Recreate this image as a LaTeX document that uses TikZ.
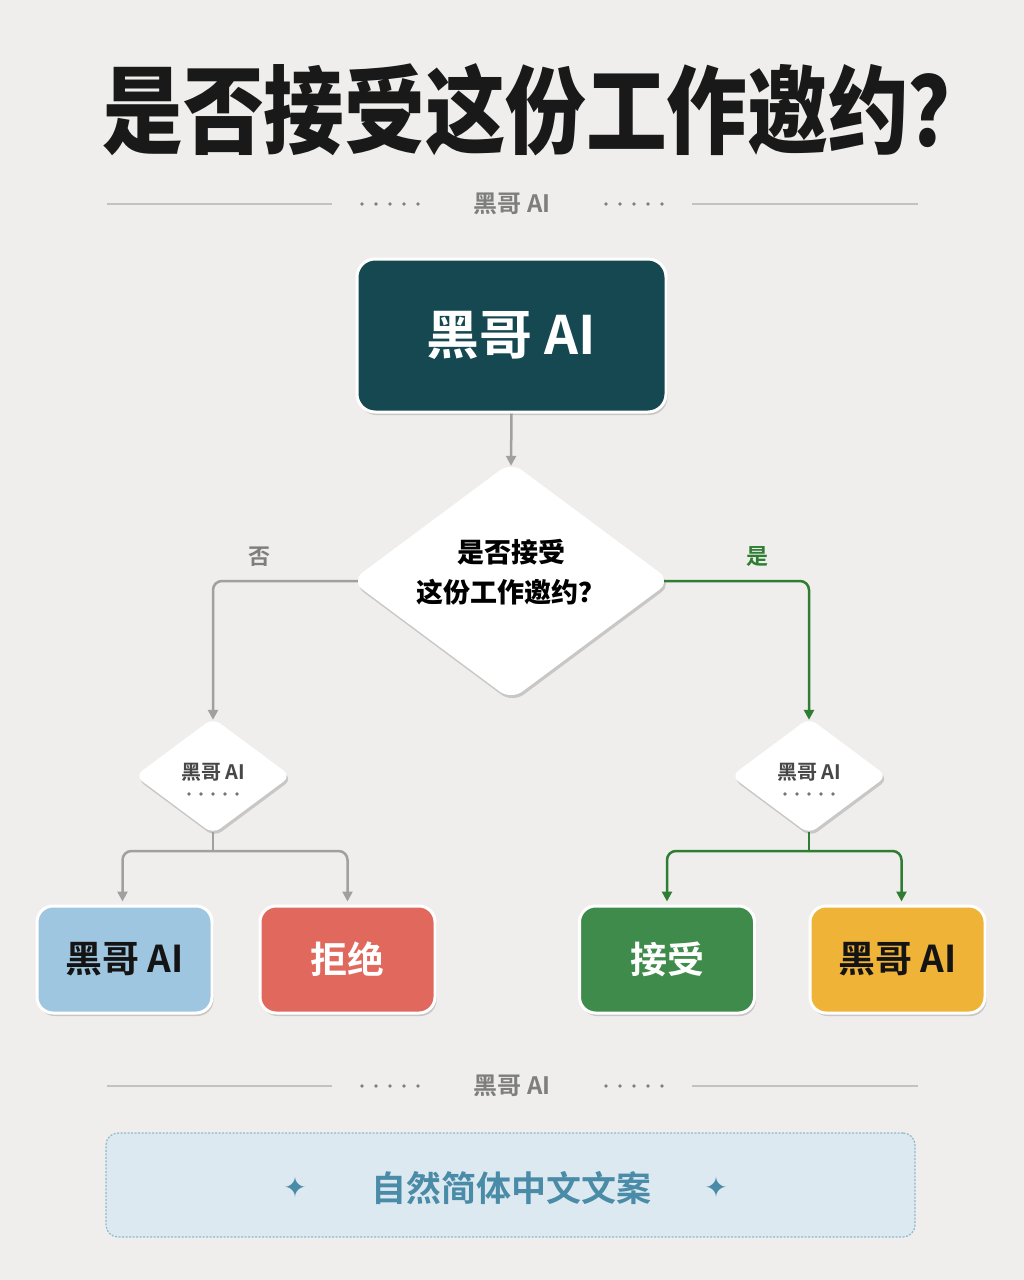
\documentclass[tikz,border=0pt]{standalone}
\usepackage{fontspec}
\newfontfamily\cjk{Noto Sans CJK SC}
\newfontfamily\cjkb{Noto Sans CJK SC Bold}
\newfontfamily\cjkh{Noto Sans CJK SC Black}
\newfontfamily\symf{DejaVu Sans}
\usetikzlibrary{shapes.geometric,shadows,arrows.meta}
\definecolor{bg}{HTML}{EFEEEC}
\definecolor{teal}{HTML}{154850}
\definecolor{boxblue}{HTML}{9EC6E0}
\definecolor{boxred}{HTML}{E0685D}
\definecolor{boxgreen}{HTML}{3F8B4B}
\definecolor{boxyellow}{HTML}{EFB338}
\definecolor{lgreen}{HTML}{2E7D32}
\definecolor{lgray}{HTML}{A0A0A0}
\definecolor{sepline}{HTML}{C2C2C2}
\definecolor{septext}{HTML}{7E7E7E}
\definecolor{noteblue}{HTML}{4A8BA8}
\definecolor{notefill}{HTML}{DDE9F0}
\definecolor{noteline}{HTML}{8FB8CC}
\tikzset{
  shd/.style={drop shadow={shadow xshift=1.5pt,shadow yshift=-3pt,opacity=0.16,fill=black}},
  bigbox/.style={rectangle, rounded corners=18pt, draw=white, line width=3pt, shd},
  leaf/.style={bigbox, minimum width=175pt, minimum height=107pt, rounded corners=16pt,
     font=\cjkb\fontsize{37pt}{40pt}\selectfont},
  dmd/.style={diamond, fill=white, inner sep=0pt, shd},
  conn/.style={line width=2.5pt, rounded corners=9pt},
  tip/.style={-{Triangle[length=10pt,width=10pt]}},
  septxt/.style={text=septext, font=\cjkb\fontsize{24pt}{26pt}\selectfont},
}
\begin{document}
\begin{tikzpicture}[x=1pt,y=-1pt]
\fill[bg] (0,0) rectangle (1024,1280);
\useasboundingbox (0,0) rectangle (1024,1280);

% title
\node[text=black!90, xscale=0.84, font=\cjkh\fontsize{96pt}{100pt}\selectfont] (title) at (546,110) {是否接受这份工作邀约？};

% separator 1
\draw[sepline, line width=1.3pt] (107,204) -- (332,204);
\draw[sepline, line width=1.3pt] (692,204) -- (918,204);
\foreach \i in {0,...,4} {
  \fill[septext] (362+14*\i,204) circle[radius=1.9pt];
  \fill[septext] (606+14*\i,204) circle[radius=1.9pt];
}
\node[septxt] (sep1) at (512,204) {黑哥 AI};

% top box
\node[bigbox, fill=teal, minimum width=309pt, minimum height=153pt, text=white,
      font=\cjkb\fontsize{53pt}{56pt}\selectfont] (top) at (511.5,335.5) {黑哥 AI};

% main diamond
\node[dmd, minimum width=320pt, minimum height=238pt, rounded corners=14pt] (d0) at (511,581) {};
\node[align=center, font=\cjkh\fontsize{27pt}{40pt}\selectfont] (q) at (511,572) {是否接受\\这份工作邀约？};

% small diamonds
\node[dmd, minimum width=156pt, minimum height=116pt, rounded corners=9pt] (d1) at (213,776) {};
\node[dmd, minimum width=156pt, minimum height=116pt, rounded corners=9pt] (d2) at (809,776) {};
\node[text=black!72, font=\cjkb\fontsize{20pt}{22pt}\selectfont] (t1) at (213,772) {黑哥 AI};
\node[text=black!72, font=\cjkb\fontsize{20pt}{22pt}\selectfont] (t2) at (809,772) {黑哥 AI};
\foreach \i in {0,...,4} {
  \fill[black!55] (189+12*\i,794) circle[radius=1.9pt];
  \fill[black!55] (785+12*\i,794) circle[radius=1.9pt];
}

% leaf boxes
\node[leaf, fill=boxblue, text=black!92] (b1) at (124.5,959.5) {黑哥 AI};
\node[leaf, fill=boxred, text=white] (b2) at (347.5,959.5) {拒绝};
\node[leaf, fill=boxgreen, text=white] (b3) at (667,959.5) {接受};
\node[leaf, fill=boxyellow, text=black!92] (b4) at (897.5,959.5) {黑哥 AI};

% connectors
\draw[conn, lgray, tip] (top.south) -- ([yshift=-4pt]d0.north);
\draw[conn, lgray, tip] ([xshift=7pt]d0.west) -| ([yshift=-2pt]d1.north);
\draw[conn, lgreen, tip] ([xshift=-7pt]d0.east) -| ([yshift=-2pt]d2.north);
\node[text=septext, font=\cjkb\fontsize{22pt}{24pt}\selectfont] (no) at (259,557) {否};
\node[text=lgreen, font=\cjkb\fontsize{22pt}{24pt}\selectfont] (yes) at (757,557) {是};

\coordinate (j1) at (213,851);
\coordinate (j2) at (809,851);
\draw[conn, lgray] ([yshift=2pt]d1.south) -- (j1);
\draw[conn, lgray, tip] (j1) -| ([xshift=-2pt,yshift=3pt]b1.north);
\draw[conn, lgray, tip] (j1) -| ([yshift=3pt]b2.north);
\draw[conn, lgreen] ([yshift=2pt]d2.south) -- (j2);
\draw[conn, lgreen, tip] (j2) -| ([yshift=3pt]b3.north);
\draw[conn, lgreen, tip] (j2) -| ([xshift=4pt,yshift=3pt]b4.north);

% separator 2
\draw[sepline, line width=1.3pt] (107,1086) -- (332,1086);
\draw[sepline, line width=1.3pt] (692,1086) -- (918,1086);
\foreach \i in {0,...,4} {
  \fill[septext] (362+14*\i,1086) circle[radius=1.9pt];
  \fill[septext] (606+14*\i,1086) circle[radius=1.9pt];
}
\node[septxt] (sep2) at (512,1086) {黑哥 AI};

% note box
\node[rectangle, rounded corners=12pt, fill=notefill, draw=noteline, line width=1.2pt,
      dash pattern=on 2pt off 1.5pt, minimum width=809pt, minimum height=104pt] (note) at (510.5,1185) {};
\node[text=noteblue, font=\cjkb\fontsize{35pt}{37pt}\selectfont] (notetxt) at (511,1188) {自然简体中文文案};
\node[text=noteblue, font=\symf\fontsize{28pt}{30pt}\selectfont] (st1) at (295,1187) {✦};
\node[text=noteblue, font=\symf\fontsize{28pt}{30pt}\selectfont] (st2) at (716,1187) {✦};
\end{tikzpicture}
\end{document}
